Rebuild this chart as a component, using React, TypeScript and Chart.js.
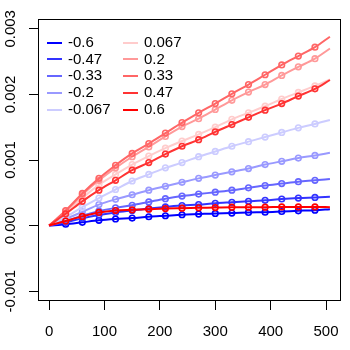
import React, { useEffect, useRef } from "react";
import { Chart, registerables } from "chart.js";

Chart.register(...registerables);

// x positions of the observed points and of the fitted line ends
const xPoints = [30, 60, 90, 120, 150, 180, 210, 240, 270, 300, 330, 360, 390, 420, 450, 480];
const xLineStart = 0;
const xLineEnd = 507;

const xTicks = [0, 100, 200, 300, 400, 500];
const yTicks = [-0.001, 0, 0.001, 0.002, 0.003];

const seriesLabels = ["-0.6", "-0.47", "-0.33", "-0.2", "-0.067", "0.067", "0.2", "0.33", "0.47", "0.6"];
const seriesColors = ["#0000FF", "#3333FF", "#6666FF", "#9999FF", "#CCCCFF", "#FFCCCC", "#FF9999", "#FF6666", "#FF3333", "#FF0000"];

// values in units of 1e-3
const valM060 = [0.02, 0.05, 0.08, 0.10, 0.115, 0.135, 0.15, 0.165, 0.175, 0.185, 0.19, 0.20, 0.205, 0.215, 0.225, 0.235];
const valM047 = [0.05, 0.11, 0.16, 0.20, 0.23, 0.26, 0.285, 0.305, 0.32, 0.34, 0.355, 0.37, 0.385, 0.405, 0.42, 0.43];
const valM033 = [0.07, 0.15, 0.22, 0.27, 0.31, 0.36, 0.41, 0.45, 0.48, 0.51, 0.54, 0.575, 0.61, 0.64, 0.67, 0.69];
const valM020 = [0.10, 0.21, 0.32, 0.40, 0.47, 0.54, 0.60, 0.66, 0.72, 0.77, 0.82, 0.87, 0.93, 0.98, 1.03, 1.07];
const valM0067 = [0.13, 0.28, 0.42, 0.55, 0.68, 0.78, 0.88, 0.96, 1.05, 1.13, 1.21, 1.28, 1.35, 1.42, 1.49, 1.55];
const valP0067 = [0.20, 0.42, 0.62, 0.78, 0.93, 1.06, 1.18, 1.29, 1.39, 1.50, 1.62, 1.72, 1.82, 1.93, 2.03, 2.13];
const valP020 = [0.22, 0.47, 0.69, 0.88, 1.05, 1.20, 1.36, 1.51, 1.63, 1.77, 1.91, 2.035, 2.15, 2.29, 2.42, 2.545];
const valP033 = [0.23, 0.49, 0.72, 0.92, 1.10, 1.25, 1.41, 1.57, 1.72, 1.86, 2.01, 2.15, 2.30, 2.45, 2.585, 2.72];
const valP047 = [0.18, 0.37, 0.54, 0.69, 0.845, 0.96, 1.09, 1.21, 1.31, 1.43, 1.54, 1.65, 1.76, 1.86, 1.975, 2.085];
const valP060 = [0.07, 0.14, 0.20, 0.23, 0.24, 0.25, 0.26, 0.265, 0.27, 0.275, 0.28, 0.28, 0.28, 0.285, 0.285, 0.285];

const lineEndValues = [0.25, 0.44, 0.71, 1.11, 1.61, 2.23, 2.70, 2.88, 2.22, 0.28];

const seriesValues = [valM060, valM047, valM033, valM020, valM0067, valP0067, valP020, valP033, valP047, valP060];
const UNIT = 1e-3;

const FONT = "15px 'Liberation Sans', Arial, sans-serif";

const rPlotPlugin = {
  id: "rPlot",
  afterDraw(chart: any) {
    const ctx = chart.ctx;
    const ca = chart.chartArea;
    const xs = chart.scales.x;
    const ys = chart.scales.y;
    ctx.save();
    // box
    ctx.strokeStyle = "#000";
    ctx.lineWidth = 1;
    ctx.strokeRect(Math.round(ca.left) + 0.5, Math.round(ca.top) + 0.5, Math.round(ca.right - ca.left) - 1, Math.round(ca.bottom - ca.top) - 1);
    ctx.fillStyle = "#000";
    ctx.font = FONT;
    // x labels
    ctx.textAlign = "center";
    ctx.textBaseline = "middle";
    xTicks.forEach((v) => {
      ctx.fillText(String(v), xs.getPixelForValue(v), 332);
    });
    // y labels (rotated)
    yTicks.forEach((v) => {
      const py = ys.getPixelForValue(v);
      ctx.save();
      ctx.translate(10.5, py);
      ctx.rotate(-Math.PI / 2);
      ctx.textAlign = "center";
      ctx.textBaseline = "middle";
      ctx.fillText(v.toFixed(3), 0, 0);
      ctx.restore();
    });
    // legend
    seriesLabels.forEach((lab, i) => {
      const col = i < 5 ? 0 : 1;
      const row = i % 5;
      const y = 42.5 + row * 16.9;
      const lx = col === 0 ? 47 : 123;
      ctx.strokeStyle = seriesColors[i];
      ctx.lineWidth = 2;
      ctx.beginPath();
      ctx.moveTo(lx, Math.round(y));
      ctx.lineTo(lx + 15, Math.round(y));
      ctx.stroke();
      ctx.fillStyle = "#000";
      ctx.textAlign = "left";
      ctx.textBaseline = "middle";
      ctx.fillText(lab, lx + 21, y);
    });
    ctx.restore();
  },
};

export default function App() {
  const ref = useRef<HTMLCanvasElement>(null);
  useEffect(() => {
    if (!ref.current) return;
    const datasets: any[] = [];
    seriesValues.forEach((vals, i) => {
      datasets.push({
        type: "line",
        label: seriesLabels[i],
        data: [
          { x: xLineStart, y: 0 },
          ...xPoints.map((x, j) => ({ x, y: vals[j] * UNIT })),
          { x: xLineEnd, y: lineEndValues[i] * UNIT },
        ],
        borderColor: seriesColors[i],
        borderWidth: 2,
        pointRadius: 0,
        showLine: true,
        fill: false,
        cubicInterpolationMode: "monotone",
        order: 100 - 2 * i,
      });
      datasets.push({
        type: "scatter",
        label: seriesLabels[i] + " points",
        data: xPoints.map((x, j) => ({ x, y: vals[j] * UNIT })),
        borderColor: seriesColors[i],
        backgroundColor: "rgba(0,0,0,0)",
        pointRadius: 2.8,
        pointBorderWidth: 1.6,
        showLine: false,
        order: 99 - 2 * i,
      });
    });
    const chart = new Chart(ref.current, {
      type: "scatter",
      data: { datasets },
      options: {
        responsive: false,
        animation: false,
        devicePixelRatio: 1,
        layout: { padding: { top: 19, right: 9, left: 0, bottom: 0 } },
        plugins: { legend: { display: false }, tooltip: { enabled: false } },
        scales: {
          x: {
            type: "linear",
            min: -20,
            max: 527,
            afterBuildTicks: (s: any) => {
              s.ticks = xTicks.map((v) => ({ value: v }));
            },
            afterFit: (s: any) => {
              s.height = 49;
            },
            ticks: { display: false },
            border: { display: false },
            grid: { display: true, drawOnChartArea: false, drawTicks: true, tickLength: 9, color: "#000", lineWidth: 1 },
          },
          y: {
            type: "linear",
            min: -0.00115,
            max: 0.00315,
            afterBuildTicks: (s: any) => {
              s.ticks = yTicks.map((v) => ({ value: v }));
            },
            afterFit: (s: any) => {
              s.width = 38;
            },
            ticks: { display: false },
            border: { display: false },
            grid: { display: true, drawOnChartArea: false, drawTicks: true, tickLength: 9, color: "#000", lineWidth: 1 },
          },
        },
      },
      plugins: [rPlotPlugin],
    } as any);
    return () => chart.destroy();
  }, []);
  return (
    <div style={{ position: "fixed", left: 0, top: 0, width: 350, height: 350, background: "#fff" }}>
      <canvas ref={ref} width={350} height={350} />
    </div>
  );
}
